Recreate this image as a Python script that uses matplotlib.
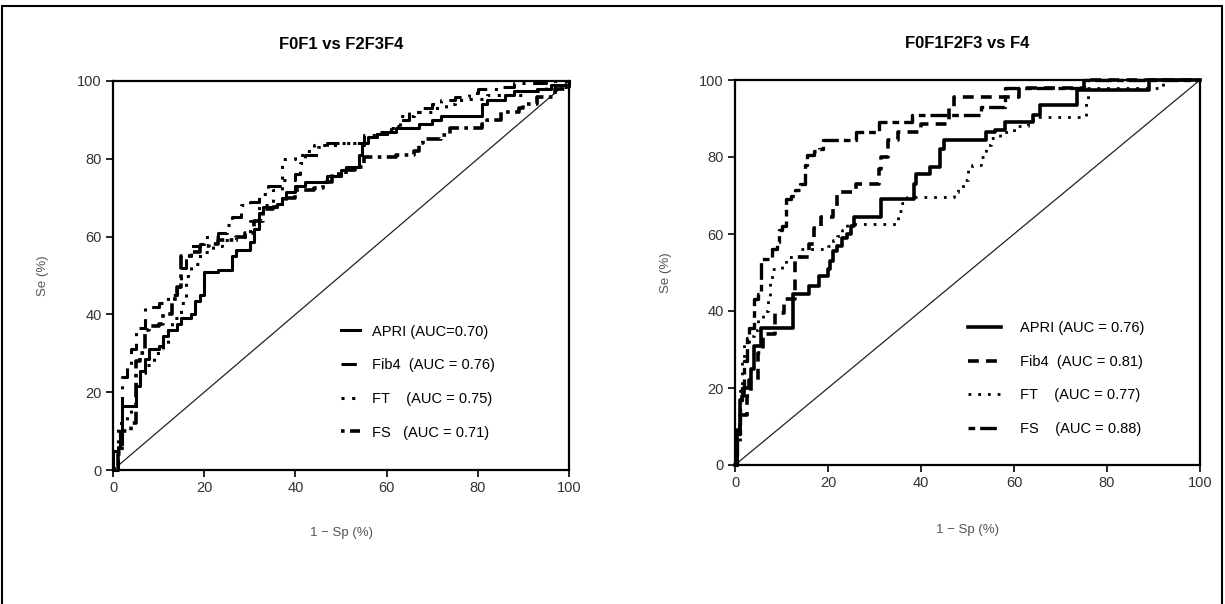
import matplotlib
matplotlib.use('Agg')
import matplotlib.pyplot as plt
from matplotlib.patches import Rectangle

plt.rcParams['font.family'] = ['Liberation Sans', 'DejaVu Sans']

# ---- panel A : F0F1 vs F2F3F4 ----
left_title = 'F0F1 vs F2F3F4'
left_labels = ['APRI (AUC=0.70)', 'Fib4  (AUC = 0.76)', 'FT    (AUC = 0.75)', 'FS   (AUC = 0.71)']

left_apri_x = [0, 0, 1, 1.5, 2, 5, 6, 7, 8, 10, 11, 12, 14, 15, 17, 18, 19, 20, 23, 26, 27, 30, 31, 32, 33,
               36, 37, 38, 40, 42, 47, 50, 51, 54, 54.5, 55, 56, 58, 60, 62, 67, 70, 72, 81, 82, 86, 88, 93, 96, 100]
left_apri_y = [0, 5, 6, 10, 16.5, 21.5, 25.5, 28.5, 31, 32, 34.5, 36, 37.5, 39, 40, 43.5, 45, 51, 51.5, 55, 56.5,
               58.5, 62, 66, 67.5, 68.5, 70, 71.5, 73, 74, 75.5, 77, 78, 81, 83.5, 84, 85.5, 86.5, 87, 88, 89, 90,
               91, 94, 95, 96.5, 97.5, 98, 99, 100]

left_fib4_x = [0, 1, 2, 2, 3, 4, 5, 5, 7, 7, 10, 12, 14, 15, 16, 17, 19, 20, 23, 25, 26, 28, 30, 32, 34, 37, 40,
               41, 42, 45, 47, 52, 55, 58, 61, 63, 65, 68, 70, 72, 75, 78, 80, 85, 88, 95, 100]
left_fib4_y = [0, 5, 15, 24, 27, 31, 32, 36.5, 36.5, 42, 43, 45, 47, 52, 55, 57.5, 58, 60, 61, 63, 65, 68, 69, 71,
               73, 74.5, 76, 79, 81, 83, 84, 84, 86, 87, 88.5, 90, 92, 93, 94, 95, 96, 97, 98, 98.5, 99.5, 100, 100]

left_ft_x = [0, 1, 1, 3, 4, 5, 6, 7, 9, 11, 12, 13, 15, 16, 17, 19, 22, 24, 27, 29, 30, 32, 35, 37, 40, 42, 44,
             50, 55, 58, 60, 63, 66, 70, 73, 75, 78, 82, 90, 95, 100]
left_ft_y = [0, 8, 12, 14, 16, 22, 25, 27, 30, 31.5, 36, 39, 43, 50, 53, 56, 57.5, 59, 60, 61, 64, 68, 72, 80, 81,
             82, 83.5, 84, 85.5, 86.5, 88, 91, 92, 93, 94, 95, 95.5, 96.5, 97.5, 98.5, 100]

left_fs_x = [0, 1, 2, 4, 5, 5, 6, 7, 8, 10, 11, 13, 14, 15, 17, 19, 21, 23, 27, 29, 31, 33, 35, 37, 38, 40, 44,
             46, 48, 51, 53, 55, 62, 66, 67, 68, 72, 74, 81, 82, 85, 89, 90, 93, 97, 100]
left_fs_y = [0, 4, 10, 12, 17, 28, 30, 36, 37, 37.5, 40, 44, 47, 55, 56, 57.5, 58, 59, 60, 61, 64, 67, 67.5, 68.5,
             70, 72, 72.5, 74, 76, 77, 78, 80.5, 81, 82, 84, 85, 86, 88, 89, 90, 92, 93, 94, 96, 98, 100]

# ---- panel B : F0F1F2F3 vs F4 ----
right_title = 'F0F1F2F3 vs F4'
right_labels = ['APRI (AUC = 0.76)', 'Fib4  (AUC = 0.81)', 'FT    (AUC = 0.77)', 'FS    (AUC = 0.88)']

right_apri_x = [0, 0.5, 1, 1.5, 2, 3, 3.5, 4, 5.5, 12.5, 16, 18, 20, 20.5, 21, 22, 23, 24, 25, 25.5, 31.5, 38.5,
                39, 42, 44, 45, 54, 56, 58, 64, 65.5, 73.5, 89, 100]
right_apri_y = [0, 9, 17, 18, 20, 22, 25, 31, 35.5, 44.5, 46.5, 49, 51, 53, 55.5, 57, 59, 60, 62, 64.5, 69, 73,
                75.5, 77.5, 82, 84.5, 86.5, 87, 89, 91, 93.5, 97.5, 100, 100]

right_fib4_x = [0, 0.5, 1, 2.5, 3.5, 5, 6, 8.5, 10.5, 13, 16, 17, 18.5, 21, 22, 26, 31, 31.5, 33, 35, 40, 46, 47,
                57, 61, 75, 100]
right_fib4_y = [0, 8, 13, 18, 22, 29, 34, 39.5, 43, 54, 57.5, 61.5, 64.5, 66.5, 71, 73, 77, 80, 84.5, 86.5, 88.5,
                93, 95.5, 95.5, 97.8, 100, 100]

right_ft_x = [0, 0.5, 1, 1.5, 2, 3, 4, 5, 6, 7, 7.5, 8, 10, 11, 14, 20, 21, 22, 23, 24, 35, 36, 37, 47, 48, 49,
              50, 51, 53, 54, 55, 57, 60, 63, 64, 75.5, 76, 92, 100]
right_ft_y = [0, 5, 20, 27, 32, 33.5, 35, 38, 40, 44, 48, 51, 52, 54, 56, 57, 58.5, 59.5, 61, 62.5, 66, 68, 69.5,
              71, 72, 74, 76.5, 78, 80, 83, 85, 86.5, 88, 89, 90.5, 94, 97.8, 100, 100]

right_fs_x = [0, 0.5, 1, 1.5, 2, 2.5, 3, 4, 4, 5, 5.5, 8, 9, 9.5, 10, 11, 12, 13, 14, 15, 15.5, 17, 18, 19, 26,
              31, 38, 53, 58, 75, 100]
right_fs_y = [0, 8, 17, 20, 27, 33, 35.5, 38, 43, 44.5, 53.5, 56, 58, 61, 62, 69, 70, 71.5, 73, 78, 80.5, 81.5,
              82, 84.5, 86.5, 89, 91, 93, 97.8, 100, 100]

ticks = [0, 20, 40, 60, 80, 100]


def draw_panel(ax, title, curves, labels, styles, widths, handlelen, textpad, title_y, xlab_y, ylab_x, leg_y):
    ax.plot([0, 100], [0, 100], color='#222222', lw=0.9, zorder=1)
    for (xs, ys), lab, ls, lw in zip(curves, labels, styles, widths):
        ax.step(xs, ys, where='post', color='black', lw=lw, linestyle=ls, label=lab,
                clip_on=False, zorder=3)
    ax.set_xlim(0, 100)
    ax.set_ylim(0, 100)
    ax.set_xticks(ticks)
    ax.set_yticks(ticks)
    ax.tick_params(direction='out', length=5, width=1.2, labelsize=10.5, labelcolor='#333333', pad=3)
    for s in ax.spines.values():
        s.set_linewidth(1.6)
    ax.text(0.5, title_y, title, transform=ax.transAxes, ha='center', va='center',
            fontsize=12, fontweight='bold')
    ax.set_xlabel('1 \u2212 Sp (%)', fontsize=9.5, color='#555555')
    ax.set_ylabel('Se (%)', fontsize=9.5, color='#555555')
    ax.xaxis.set_label_coords(0.5, xlab_y)
    ax.yaxis.set_label_coords(ylab_x, 0.5)
    ax.legend(loc='upper left', bbox_to_anchor=(0.5, leg_y), frameon=False, fontsize=10.5,
              handlelength=handlelen, handletextpad=textpad, labelspacing=1.35, borderpad=0,
              borderaxespad=0)


fig = plt.figure(figsize=(12.25, 6.04), dpi=100)
fig.patches.append(Rectangle((2 / 1225, -0.05), 1220 / 1225, 1 - 6 / 604 + 0.05,
                             transform=fig.transFigure, fill=False, lw=1.5, ec='black'))

ax1 = fig.add_axes([113 / 1225, 1 - 470 / 604, 456 / 1225, 389 / 604])
draw_panel(ax1, left_title,
           [(left_apri_x, left_apri_y), (left_fib4_x, left_fib4_y), (left_ft_x, left_ft_y), (left_fs_x, left_fs_y)],
           left_labels,
           ['-', (0, (5, 2.5, 1, 2.5)), (0, (1, 2.5)), (0, (1, 1.5, 4, 1.5))],
           [2.2, 2.2, 2.2, 2.6], 1.3, 0.8, 1.095, -0.147, -0.14, 0.374)

ax2 = fig.add_axes([735 / 1225, 1 - 465 / 604, 465 / 1225, 385 / 604])
draw_panel(ax2, right_title,
           [(right_apri_x, right_apri_y), (right_fib4_x, right_fib4_y), (right_ft_x, right_ft_y),
            (right_fs_x, right_fs_y)],
           right_labels,
           ['-', (0, (3, 2)), (0, (1, 2.5)), (0, (2, 1.5, 5, 1.5))],
           [2.6, 2.6, 2.0, 2.4], 2.3, 1.3, 1.094, -0.153, -0.135, 0.374)

plt.savefig('out.png', dpi=100)
